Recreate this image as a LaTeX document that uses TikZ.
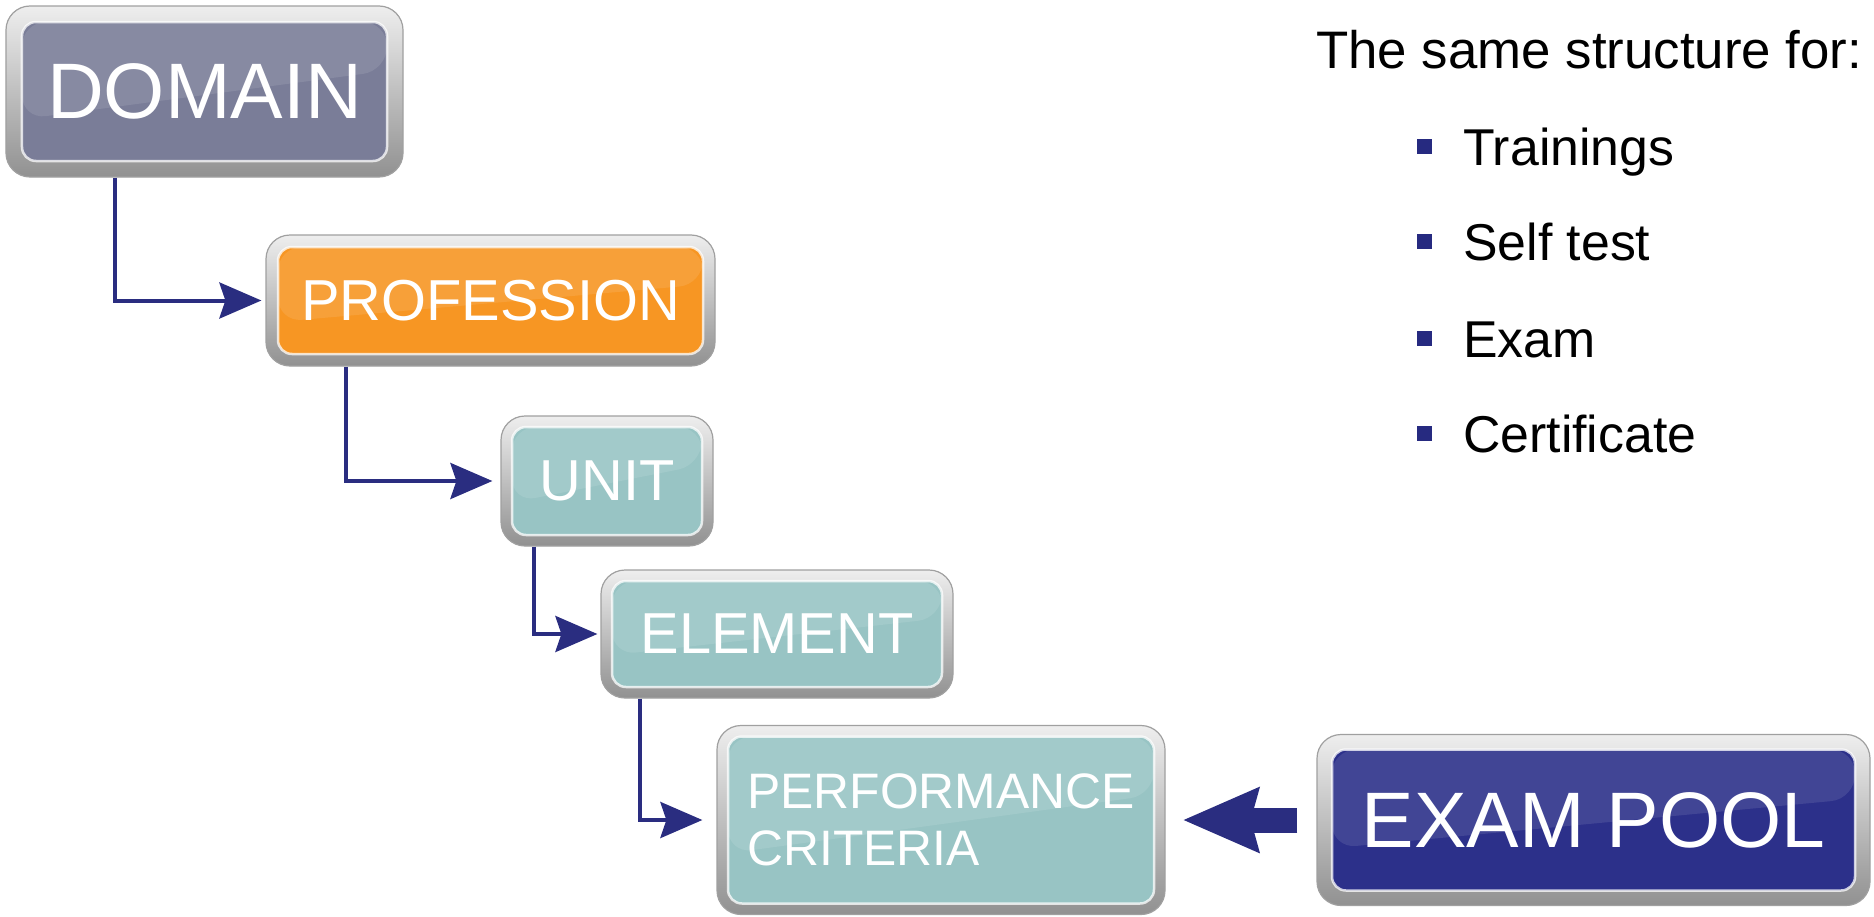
\documentclass[tikz,border=0pt]{standalone}
\usepackage{fontspec}
\setmainfont{Liberation Sans}
\usetikzlibrary{arrows.meta,calc}
\definecolor{domaincol}{RGB}{122,125,152}
\definecolor{profcol}{RGB}{247,150,35}
\definecolor{tealcol}{RGB}{152,196,196}
\definecolor{examcol}{RGB}{44,48,138}
\definecolor{arrowcol}{RGB}{42,45,128}
\definecolor{bulletcol}{RGB}{38,42,128}
\definecolor{framehi}{RGB}{238,238,238}
\definecolor{framelo}{RGB}{145,145,145}
\definecolor{frameedge}{RGB}{160,160,160}
\tikzset{
  btn/.style 2 args={rounded corners=24bp, top color=framehi, bottom color=framelo,
    draw=frameedge, line width=1.2bp, inner sep=0pt, text=white, align=center,
    path picture={
      \coordinate (pnw) at ([shift={(#2,-#2)}]path picture bounding box.north west);
      \coordinate (pse) at ([shift={(-#2,#2)}]path picture bounding box.south east);
      \fill[fill=#1, rounded corners=14bp] (pnw) rectangle (pse);
      \begin{scope}
        \clip[rounded corners=14bp] (pnw) rectangle (pse);
        \fill[white, opacity=0.10] (pnw) -- (pnw -| pse) -- ($(pnw -| pse)!0.35!(pse)$) -- ($(pnw)!0.7!(pnw |- pse)$) -- cycle;
      \end{scope}
      \draw[white, opacity=0.75, line width=2.5bp, rounded corners=14bp] (pnw) rectangle (pse);
    }},
  conn/.style={draw=arrowcol, line width=4bp, -{Stealth[length=42bp,width=36bp,inset=6bp]}},
  bigarrow/.style={draw=arrowcol, line width=25bp, -{Stealth[length=75bp,width=62bp,inset=7bp]}},
  rtext/.style={anchor=base west, text=black, inner sep=0pt, font=\fontsize{52}{56}\selectfont},
  bulletbox/.style={fill=bulletcol, minimum size=15bp, inner sep=0pt},
}
\begin{document}
\begin{tikzpicture}[x=1bp, y=-1bp]
\useasboundingbox (0,0) rectangle (1874,917);

\node[btn={domaincol}{16bp}, minimum width=397bp, minimum height=171bp,
      font=\fontsize{79}{82}\selectfont] (domain) at (204.5,91.5) {DOMAIN};
\node[btn={profcol}{12bp}, minimum width=449bp, minimum height=131bp,
      font=\fontsize{58}{62}\selectfont] (prof) at (490.5,300.5) {PROFESSION};
\node[btn={tealcol}{11bp}, minimum width=212bp, minimum height=130bp,
      font=\fontsize{58}{62}\selectfont] (unit) at (607,481) {UNIT};
\node[btn={tealcol}{11bp}, minimum width=352bp, minimum height=128bp,
      font=\fontsize{58}{62}\selectfont] (elem) at (777,634) {ELEMENT};
\node[btn={tealcol}{11bp}, minimum width=448bp, minimum height=189bp, align=left,
      font=\fontsize{50}{57}\selectfont] (perf) at (941,820) {PERFORMANCE\\CRITERIA};
\node[btn={examcol}{15bp}, minimum width=553bp, minimum height=171bp,
      font=\fontsize{79}{82}\selectfont] (exam) at (1593.5,820) {EXAM POOL};

\draw[conn, shorten >=4bp] ([xshift=110bp]domain.south west) |- (prof.west);
\draw[conn, shorten >=8bp] ([xshift=81bp]prof.south west) |- (unit.west);
\draw[conn, shorten >=3bp] ([xshift=34bp]unit.south west) |- (elem.west);
\draw[conn, shorten >=14bp] ([xshift=40bp]elem.south west) |- (perf.west);
\draw[bigarrow] ([xshift=-19bp]exam.west) -- ([xshift=17bp]perf.east);

\node[rtext, font=\fontsize{53}{56}\selectfont] (title) at (1316,68) {The same structure for:};
\node[bulletbox] (b1) at (1424.5,146) {};
\node[rtext] (i1) at (1463,165) {Trainings};
\node[bulletbox] (b2) at (1424.5,241) {};
\node[rtext] (i2) at (1463,260) {Self test};
\node[bulletbox] (b3) at (1424.5,338) {};
\node[rtext] (i3) at (1463,357) {Exam};
\node[bulletbox] (b4) at (1424.5,433) {};
\node[rtext] (i4) at (1463,452) {Certificate};
\end{tikzpicture}
\end{document}
